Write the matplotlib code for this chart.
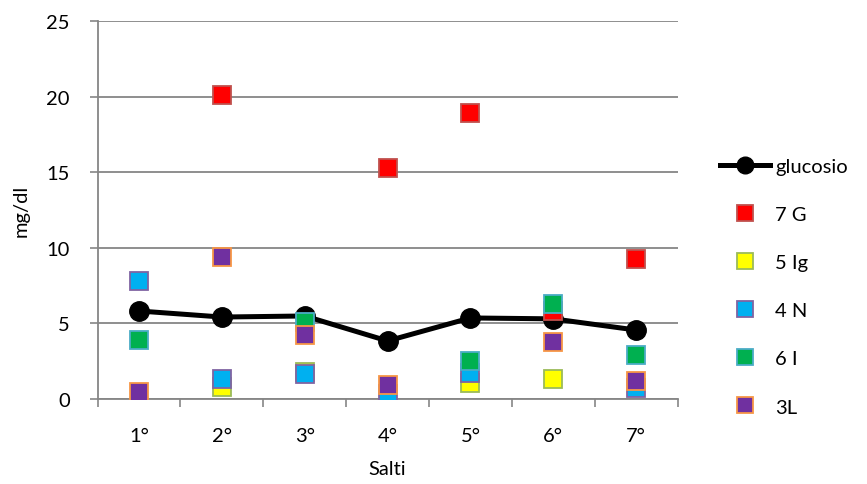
import numpy as np
import matplotlib
matplotlib.use("Agg")
import matplotlib.pyplot as plt
from matplotlib.lines import Line2D

plt.rcParams["font.family"] = ["Lato", "DejaVu Sans"]

categories = ["1°", "2°", "3°", "4°", "5°", "6°", "7°"]
glucosio = [5.82, 5.42, 5.49, 3.84, 5.36, 5.30, 4.56]

nan = np.nan
g7 = [nan, 20.1, nan, 15.3, 18.9, 5.8, 9.25]
ig5 = [nan, 0.8, 1.8, nan, 1.05, 1.3, nan]
n4 = [7.8, 1.3, 1.65, 0.3, 1.75, nan, 0.75]
i6 = [3.9, nan, 5.1, nan, 2.5, 6.3, 2.9]
l3 = [0.45, 9.4, 4.25, 0.9, nan, 3.8, 1.2]

series = [
    ("7 G", g7, "#ff0000", "#c0504d"),
    ("5 Ig", ig5, "#ffff00", "#9bbb59"),
    ("4 N", n4, "#00b0f0", "#8064a2"),
    ("6 I", i6, "#00b050", "#4bacc6"),
    ("3L", l3, "#7030a0", "#f79646"),
]

FS = 14.5

fig = plt.figure(figsize=(8.67, 4.85), dpi=100)
ax = fig.add_axes([0.1125, 0.1753, 0.669, 0.7793])

x = np.arange(1, len(categories) + 1)
grid_c = "#868686"

ax.plot(x, glucosio, color="black", lw=3.6, marker="o", ms=14, zorder=3,
        label="glucosio")
for name, vals, fc, ec in series:
    ax.plot(x, vals, ls="none", marker="s", ms=13.5, mfc=fc, mec=ec,
            mew=1.3, zorder=4, label=name)

ax.set_xlim(0.5, 7.5)
ax.set_ylim(0, 25)
ax.set_yticks(range(0, 26, 5))
ax.set_xticks(x)
ax.set_xticklabels(categories)
ax.set_xticks(np.arange(0.5, 7.6, 1), minor=True)
ax.tick_params(axis="x", which="major", length=0, pad=20, labelsize=FS)
ax.tick_params(axis="x", which="minor", length=6, color=grid_c, width=1.2)
ax.tick_params(axis="y", length=6, color=grid_c, width=1.2, labelsize=FS, pad=14)
ax.yaxis.grid(True, color=grid_c, lw=1.3)
ax.set_axisbelow(True)
for s in ["top", "right"]:
    ax.spines[s].set_visible(False)
for s in ["left", "bottom"]:
    ax.spines[s].set_color(grid_c)
    ax.spines[s].set_linewidth(1.3)

ax.set_ylabel("mg/dl", fontsize=FS, labelpad=12)
ax.set_xlabel("Salti", fontsize=FS, labelpad=12)

handles = [Line2D([], [], color="black", lw=3.6, marker="o", ms=12)]
for name, vals, fc, ec in series:
    handles.append(Line2D([], [], ls="none", marker="s", ms=11, mfc=fc, mec=ec, mew=1.3))
labels = ["glucosio"] + [s[0] for s in series]
fig.legend(handles, labels, loc="upper left", bbox_to_anchor=(0.821, 0.689),
           frameon=False, fontsize=FS, labelspacing=1.54, handlelength=2.5,
           handletextpad=0.25, borderaxespad=0)

fig.savefig("out.png", dpi=100)
